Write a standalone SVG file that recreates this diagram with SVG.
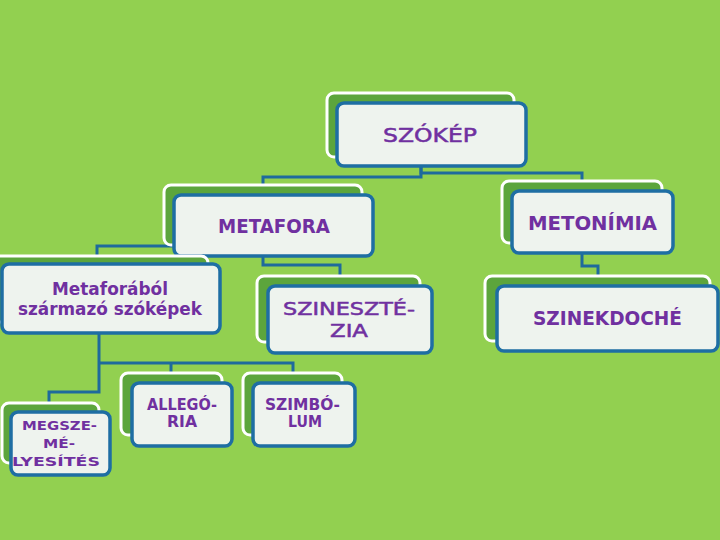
<svg xmlns="http://www.w3.org/2000/svg" width="720" height="540" viewBox="0 0 720 540">
<style>
.back{fill:#5CA53C;stroke:#FFFFFF;stroke-width:3}
.front{fill:#EEF3EE;stroke:#1E6EA3;stroke-width:3.5}
.conn{fill:none;stroke:#1E6A9C;stroke-width:3}
text{font-family:"DejaVu Sans","Liberation Sans",sans-serif;fill:#7030A0;font-weight:bold;text-anchor:start}
.n{font-weight:normal;stroke:#7030A0;stroke-width:0.5}
.big{font-size:19px}
.mid{font-size:17px}
.sm{font-size:15px}
.xs{font-size:13px}
</style>
<rect width="720" height="540" fill="#92D050"/>
<g id="connectors">
<path class="conn" d="M421,166 V177 H263 V186"/>
<path class="conn" d="M421,166 V173 H582 V182"/>
<path class="conn" d="M263,256 V265 H340 V276"/>
<path class="conn" d="M175,246 H97 V257"/>
<path class="conn" d="M582,253 V266 H598 V277"/>
<path class="conn" d="M99,332 V392 H49 V403"/>
<path class="conn" d="M99,363 H293 V373"/>
<path class="conn" d="M171,363 V373"/>
</g>
<g id="szokep">
<rect class="back" x="327" y="93" width="187" height="64" rx="7"/>
<rect class="front" x="337" y="103" width="189" height="63" rx="7"/>
<text class="big n" x="383" y="142" textLength="94" lengthAdjust="spacingAndGlyphs">SZÓKÉP</text>
</g>
<g id="metafora">
<rect class="back" x="164" y="185" width="198" height="60" rx="7"/>
<rect class="front" x="174" y="195" width="199" height="61" rx="7"/>
<text class="big" x="218" y="233" textLength="112" lengthAdjust="spacingAndGlyphs">METAFORA</text>
</g>
<g id="metonimia">
<rect class="back" x="502" y="181" width="160" height="62" rx="7"/>
<rect class="front" x="512" y="191" width="161" height="62" rx="7"/>
<text class="big" x="528" y="230" textLength="129" lengthAdjust="spacingAndGlyphs">METONÍMIA</text>
</g>
<g id="metaforabol">
<rect class="back" x="-8" y="256" width="216" height="66" rx="7"/>
<rect class="front" x="2" y="264" width="218" height="69" rx="7"/>
<text class="mid" x="52" y="295" textLength="116" lengthAdjust="spacingAndGlyphs">Metaforából</text>
<text class="mid" x="18" y="315" textLength="184" lengthAdjust="spacingAndGlyphs">származó szóképek</text>
</g>
<g id="szinesztezia">
<rect class="back" x="257" y="276" width="163" height="66" rx="7"/>
<rect class="front" x="268" y="286" width="164" height="67" rx="7"/>
<text class="mid n" x="283" y="315" textLength="132" lengthAdjust="spacingAndGlyphs">SZINESZTÉ-</text>
<text class="mid n" x="330" y="337" textLength="38" lengthAdjust="spacingAndGlyphs">ZIA</text>
</g>
<g id="szinekdoche">
<rect class="back" x="485" y="276" width="225" height="65" rx="7"/>
<rect class="front" x="497" y="286" width="221" height="65" rx="7"/>
<text class="big" x="533" y="325" textLength="149" lengthAdjust="spacingAndGlyphs">SZINEKDOCHÉ</text>
</g>
<g id="megszemelyesites">
<rect class="back" x="2" y="403" width="97" height="60" rx="7"/>
<rect class="front" x="11" y="412" width="99" height="63" rx="7"/>
<text class="xs" x="22" y="430" textLength="75" lengthAdjust="spacingAndGlyphs">MEGSZE-</text>
<text class="xs" x="43" y="448" textLength="32" lengthAdjust="spacingAndGlyphs">MÉ-</text>
<text class="xs" x="12" y="466" textLength="88" lengthAdjust="spacingAndGlyphs">LYESÍTÉS</text>
</g>
<g id="allegoria">
<rect class="back" x="121" y="373" width="101" height="62" rx="7"/>
<rect class="front" x="132" y="383" width="100" height="63" rx="7"/>
<text class="sm" x="147" y="410" textLength="70" lengthAdjust="spacingAndGlyphs">ALLEGÓ-</text>
<text class="sm" x="167" y="427" textLength="30" lengthAdjust="spacingAndGlyphs">RIA</text>
</g>
<g id="szimbolum">
<rect class="back" x="243" y="373" width="99" height="62" rx="7"/>
<rect class="front" x="253" y="383" width="102" height="63" rx="7"/>
<text class="sm" x="265" y="410" textLength="75" lengthAdjust="spacingAndGlyphs">SZIMBÓ-</text>
<text class="sm" x="288" y="427" textLength="34" lengthAdjust="spacingAndGlyphs">LUM</text>
</g>
</svg>
